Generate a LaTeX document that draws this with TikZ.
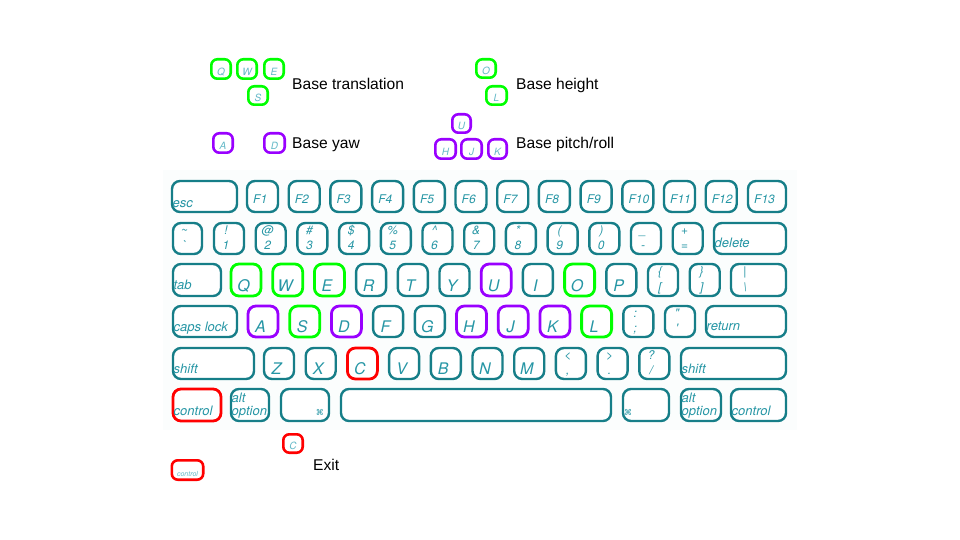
\documentclass[tikz,border=0pt]{standalone}
\usepackage{fontspec}
\setmainfont{Liberation Sans}
\newfontfamily\keyfont{TeX Gyre Heros}
\newfontfamily\symfont{DejaVu Sans}
\definecolor{kteal}{RGB}{22,126,136}
\definecolor{ktxt}{RGB}{38,150,165}
\definecolor{kmini}{RGB}{100,185,200}
\definecolor{kgreen}{RGB}{0,255,0}
\definecolor{kpurple}{RGB}{153,0,255}
\definecolor{kred}{RGB}{255,0,0}
\definecolor{kbbg}{RGB}{251,253,253}
\tikzset{
  kbk/.style={rectangle, draw=kteal, line width=2.4pt, rounded corners=8pt, fill=white, inner sep=0pt, outer sep=0pt},
  grn/.style={kbk, draw=kgreen, line width=2.8pt},
  pur/.style={kbk, draw=kpurple, line width=2.8pt},
  rd/.style={kbk, draw=kred, line width=2.8pt},
  lblbig/.style={inner sep=0pt, text=ktxt, font=\keyfont\itshape\fontsize{16}{16}\selectfont},
  lblmid/.style={inner sep=0pt, text=ktxt, font=\keyfont\itshape\fontsize{12}{12}\selectfont},
  lblmod/.style={inner sep=0pt, text=ktxt, font=\keyfont\itshape\fontsize{13}{13}\selectfont},
  lblsym/.style={inner sep=0pt, text=ktxt, font=\symfont\fontsize{8}{8}\selectfont},
  mini/.style={rectangle, fill=white, line width=2.6pt, rounded corners=6pt, inner sep=0pt, outer sep=0pt},
  minilbl/.style={inner sep=0pt, text=kmini, font=\keyfont\itshape\fontsize{10}{10}\selectfont},
  lgd/.style={inner sep=0pt, text=black, font=\fontsize{15.6}{15.6}\selectfont}
}
% key node: name, x1, y1, x2, y2, style
\newcommand\K[6]{\node[#6, minimum width={(#4)-(#2)-2}, minimum height={(#5)-(#3)-2}] (#1) at ({((#2)+(#4))/2},{((#3)+(#5))/2}) {};}
% big centred letter
\newcommand\Lc[2]{\node[lblbig, anchor=base] (#1-t) at ([xshift=-2.5pt,yshift=5pt]#1.south) {#2};}
% modifier text at lower left
\newcommand\Lm[3]{\node[lblmod, anchor=base west] (#1-t) at ([xshift=0.5pt,yshift=#3]#1.south west) {#2};}
% function key text
\newcommand\Lf[2]{\node[lblmid, anchor=base west] (#1-t) at ([xshift=6pt,yshift=9pt]#1.south west) {#2};}
% dual text
\newcommand\Ld[3]{\node[lblmid, anchor=base] (#1-a) at ([xshift=-3pt,yshift=-11pt]#1.north) {#2};
  \node[lblmid, anchor=base] (#1-b) at ([xshift=-3pt,yshift=4.5pt]#1.south) {#3};}
% mini legend key: name, x1, y1, x2, y2, colour, text
\newcommand\M[7]{\node[mini, draw=#6, minimum width={(#4)-(#2)-2.6}, minimum height={(#5)-(#3)-2.6}] (#1) at ({((#2)+(#4))/2},{((#3)+(#5))/2}) {};
  \node[minilbl, anchor=base] (#1-t) at ([yshift=3.5pt]#1.south) {#7};}
\begin{document}
\begin{tikzpicture}[x=1pt, y=-1pt]
\useasboundingbox (0,0) rectangle (960,540);
\fill[kbbg] (163,170) rectangle (797,430);

% ---- legend ----
\M{mQ}{210}{58}{232}{80}{kgreen}{Q}
\M{mW}{236}{58}{258}{80}{kgreen}{W}
\M{mE}{263}{58}{285}{80}{kgreen}{E}
\M{mS}{247}{85}{269}{106}{kgreen}{S}
\node[lgd, anchor=base west] (ltrans) at (292,89.3) {Base translation};
\M{mA}{212}{132}{234}{154}{kpurple}{A}
\M{mD}{263}{132}{286}{154}{kpurple}{D}
\node[lgd, anchor=base west] (lyaw) at (292,148.3) {Base yaw};
\M{mO}{475}{58}{497}{79}{kgreen}{O}
\M{mL}{485}{85}{508}{106}{kgreen}{L}
\node[lgd, anchor=base west] (lheight) at (516,89.3) {Base height};
\M{mU}{451}{113}{472}{134}{kpurple}{U}
\M{mH}{434}{138}{457}{160}{kpurple}{H}
\M{mJ}{460}{138}{483}{160}{kpurple}{J}
\M{mK}{487}{138}{508}{160}{kpurple}{K}
\node[lgd, anchor=base west] (lpitch) at (516,148.3) {Base pitch/roll};
\M{mC}{282}{433}{304}{454}{kred}{C}
\node[mini, draw=kred, minimum width=31.4, minimum height=19.4] (mctl) at (187.5,470) {};
\node[minilbl, anchor=base, font=\keyfont\itshape\fontsize{7}{7}\selectfont] (mctl-t) at ([yshift=3.5pt]mctl.south) {control};
\node[lgd, anchor=base west] (lexit) at (313,470.7) {Exit};

% ---- row 1 ----
\K{esc}{171}{180}{238}{213}{kbk} \Lm{esc}{esc}{5pt}
\foreach \i in {1,...,12} {
  \pgfmathsetmacro\xa{246+(\i-1)*41.7}
  \K{F\i}{\xa}{180}{\xa+33}{213}{kbk} \Lf{F\i}{F\i}
}
\K{F13}{747}{180}{787}{213}{kbk} \Lf{F13}{F13}

% ---- row 2 ----
\K{tilde}{172}{222}{203}{255}{kbk} \Ld{tilde}{\textasciitilde}{\textasciigrave}
\foreach \i/\tp/\bt in {0/!/1, 1/@/2, 2/\#/3, 3/\$/4, 4/\%/5, 5/\textasciicircum/6, 6/\&/7, 7/*/8, 8/(/9, 9/)/0, 10/\_/-, 11/+/=} {
  \pgfmathsetmacro\xa{213+\i*41.7}
  \K{n\i}{\xa}{222}{\xa+32}{255}{kbk} \Ld{n\i}{\tp}{\bt}
}
\K{delete}{713}{222}{787}{255}{kbk} \Lm{delete}{delete}{7pt}

% ---- row 3 ----
\K{tab}{172}{263}{222}{297}{kbk} \Lm{tab}{tab}{7pt}
\foreach \i/\t/\s in {0/Q/grn, 1/W/grn, 2/E/grn, 3/R/kbk, 4/T/kbk, 5/Y/kbk, 6/U/pur, 7/I/kbk, 8/O/grn, 9/P/kbk} {
  \pgfmathsetmacro\xa{230+\i*41.7}
  \K{k\t}{\xa}{263}{\xa+32}{297}{\s} \Lc{k\t}{\t}
}
\K{lbrack}{647}{263}{679}{297}{kbk} \Ld{lbrack}{\{}{[}
\K{rbrack}{688.7}{263}{720.7}{297}{kbk} \Ld{rbrack}{\}}{]}
\K{bslash}{730}{263}{787}{297}{kbk}
\node[lblmid, anchor=base] (bslash-a) at ([xshift=14pt,yshift=-11pt]bslash.north west) {|};
\node[lblmid, anchor=base] (bslash-b) at ([xshift=14pt,yshift=4.5pt]bslash.south west) {\textbackslash};

% ---- row 4 ----
\K{caps}{172}{305}{238}{338}{kbk} \Lm{caps}{caps lock}{6pt}
\foreach \i/\t/\s in {0/A/pur, 1/S/grn, 2/D/pur, 3/F/kbk, 4/G/kbk, 5/H/pur, 6/J/pur, 7/K/pur, 8/L/grn} {
  \pgfmathsetmacro\xa{247+\i*41.7}
  \K{k\t}{\xa}{305}{\xa+32}{338}{\s} \Lc{k\t}{\t}
}
\K{semi}{622.3}{305}{654.3}{338}{kbk} \Ld{semi}{:}{;}
\K{quote}{664}{305}{696}{338}{kbk} \Ld{quote}{\textquotedbl}{\textquotesingle}
\K{return}{705}{305}{787}{338}{kbk} \Lm{return}{return}{7pt}

% ---- row 5 ----
\K{lshift}{172}{347}{255}{380}{kbk} \Lm{lshift}{shift}{6pt}
\foreach \i/\t/\s in {0/Z/kbk, 1/X/kbk, 2/C/rd, 3/V/kbk, 4/B/kbk, 5/N/kbk, 6/M/kbk} {
  \pgfmathsetmacro\xa{263+\i*41.7}
  \K{k\t}{\xa}{347}{\xa+32}{380}{\s} \Lc{k\t}{\t}
}
\K{comma}{554.9}{347}{586.9}{380}{kbk} \Ld{comma}{<}{,}
\K{period}{596.6}{347}{628.6}{380}{kbk} \Ld{period}{>}{.}
\K{slash}{638.3}{347}{670.3}{380}{kbk} \Ld{slash}{?}{/}
\K{rshift}{680}{347}{787}{380}{kbk} \Lm{rshift}{shift}{6pt}

% ---- row 6 ----
\K{lctrl}{172}{388}{222}{422}{rd} \Lm{lctrl}{control}{6pt}
\K{lalt}{230}{388}{270}{422}{kbk} \Lm{lalt}{option}{6pt}
\node[lblmod, anchor=base west] (lalt-a) at ([xshift=0.5pt,yshift=-13pt]lalt.north west) {alt};
\K{lcmd}{280}{388}{330}{422}{kbk}
\node[lblsym, anchor=base east] (lcmd-t) at ([xshift=-5pt,yshift=6pt]lcmd.south east) {⌘};
\K{space}{340}{388}{612}{422}{kbk}
\K{rcmd}{622}{388}{670}{422}{kbk}
\node[lblsym, anchor=base west] (rcmd-t) at ([xshift=1pt,yshift=6pt]rcmd.south west) {⌘};
\K{ralt}{680}{388}{722}{422}{kbk} \Lm{ralt}{option}{6pt}
\node[lblmod, anchor=base west] (ralt-a) at ([xshift=0.5pt,yshift=-13pt]ralt.north west) {alt};
\K{rctrl}{730}{388}{787}{422}{kbk} \Lm{rctrl}{control}{6pt}
\end{tikzpicture}
\end{document}
